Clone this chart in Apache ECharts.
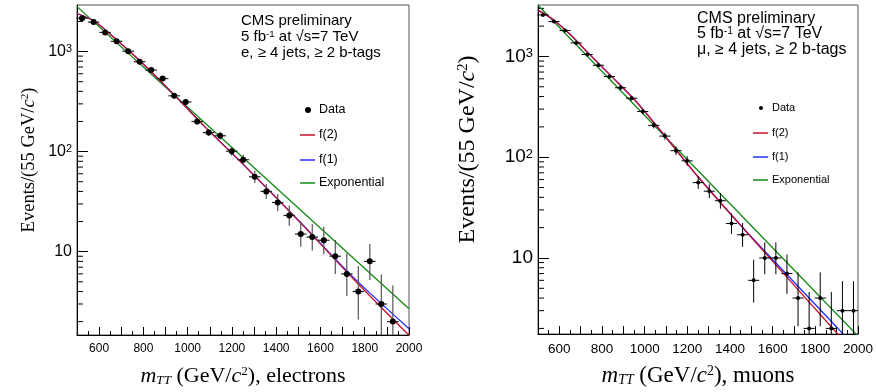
<!DOCTYPE html>
<html>
<head>
<meta charset="utf-8">
<script src="https://cdn.jsdelivr.net/npm/echarts@6/dist/echarts.min.js"></script>
<style>
html, body { margin: 0; padding: 0; background: #fff; }
#chart { width: 876px; height: 392px; }
</style>
</head>
<body>
<div id="chart"></div>
<script>
// bin centres (GeV) and half width for the horizontal bars
const binCentres = [523, 575, 627, 679, 731, 783, 835, 887, 939, 991, 1043, 1095, 1147, 1199, 1251,
                    1303, 1355, 1407, 1459, 1511, 1563, 1615, 1667, 1719, 1771, 1823, 1875, 1927, 1979];
const binHalf = 26;

// electrons
const eleCounts = [2157, 1968, 1552, 1265, 1007, 791, 653, 537, 361, 313, 200, 155, 144, 101, 83,
                   56, 40, 31, 23, 15, 14, 13, 9, 6, 4, 8, 3, 2];
const eleLow  = [2111, 1924, 1513, 1229, 975, 763, 627, 514, 342, 295, 186, 143, 132, 91, 74,
                 48.5, 33.7, 25.4, 18.2, 11.2, 10.3, 9.4, 6.0, 3.6, 2.1, 5.2, 1.4, 0.7];
const eleHigh = [2204, 2013, 1592, 1302, 1040, 820, 680, 561, 381, 332, 215, 168, 157, 112, 93,
                 64.5, 47.4, 37.6, 28.9, 20.0, 18.8, 17.7, 13.1, 9.6, 7.2, 11.9, 5.9, 4.6];

// muons
const muCounts = [2582, 2218, 1811, 1361, 1046, 817, 632, 489, 385, 284, 207, 162, 116, 92, 56,
                  46, 37, 22, 17, 6, 10, 10, 7, 4, 2, 4, 2, 3, 3];
const muLow  = [2531, 2171, 1768, 1324, 1014, 788, 607, 467, 365, 267, 193, 149, 105, 82.4, 48.5,
                39.2, 30.9, 17.3, 12.9, 3.6, 6.9, 6.9, 4.4, 2.1, 0.7, 2.1, 0.7, 1.4, 1.4];
const muHigh = [2633, 2265, 1854, 1398, 1079, 846, 658, 512, 405, 302, 222, 176, 128, 102.6, 64.5,
                53.8, 44.1, 27.8, 22.2, 9.6, 14.3, 14.3, 10.8, 7.2, 4.6, 7.2, 4.6, 5.9, 5.9];

// fit curves
const eleFitX = [500, 580, 680, 785, 940, 1070, 1250, 1510, 1750, 2000];
const eleF2   = [2400, 1995, 1303, 803, 367, 184, 75, 19.4, 5.3, 1.46];
const eleF1   = [2400, 1995, 1303, 803, 367, 184, 75, 19.6, 5.5, 1.70];
const eleExpX = [500, 1000, 1500, 2000];
const eleExp  = [2810, 277, 27.3, 2.69];

const muFitX = [500, 575, 650, 735, 842, 946, 1048, 1250, 1492, 1906, 2000];
const muF2   = [2880, 2290, 1660, 1084, 641, 385, 215, 64, 16.7, 1.75, 1.05];
const muF1   = [2880, 2290, 1660, 1084, 641, 385, 215, 64, 16.9, 2.0, 1.19];
const muExpX = [500, 1000, 1500, 2000];
const muExp  = [3220, 259, 20.9, 1.68];

// minor ticks of the log axes
const eleMinor = [2, 3, 4, 5, 6, 7, 8, 9, 20, 30, 40, 50, 60, 70, 80, 90, 200, 300, 400, 500, 600, 700, 800, 900, 2000];
const muMinor  = [2, 3, 4, 5, 6, 7, 8, 9, 20, 30, 40, 50, 60, 70, 80, 90, 200, 300, 400, 500, 600, 700, 800, 900, 2000, 3000];

const RED = '#c8102e', BLUE = '#1f2eff', GREEN = '#138a13';
const SANS = 'Liberation Sans', SERIF = 'Liberation Serif';

const chart = echarts.init(document.getElementById('chart'));

function pairs(xs, ys) { return xs.map((x, i) => [x, ys[i]]); }

function dataRender(r, vCol, hCol, w) {
  return function (params, api) {
    const cs = params.coordSys;
    const x = api.value(0), y = api.value(1);
    const c = api.coord([x, y]);
    const yl = Math.min(api.coord([x, api.value(2)])[1], cs.y + cs.height);
    const yh = Math.max(api.coord([x, api.value(3)])[1], cs.y);
    const xl = api.coord([x - binHalf, y])[0];
    const xr = Math.min(api.coord([x + binHalf, y])[0], cs.x + cs.width);
    return {
      type: 'group',
      children: [
        { type: 'line', shape: { x1: c[0], y1: yh, x2: c[0], y2: yl }, style: { stroke: vCol, lineWidth: w } },
        { type: 'line', shape: { x1: xl, y1: c[1], x2: xr, y2: c[1] }, style: { stroke: hCol, lineWidth: w } },
        { type: 'circle', shape: { cx: c[0], cy: c[1], r: r }, style: { fill: '#000' } }
      ]
    };
  };
}

function minorRender(params, api) {
  const p = api.coord([api.value(0), api.value(1)]);
  return { type: 'line', shape: { x1: p[0], y1: p[1], x2: p[0] + 6, y2: p[1] }, style: { stroke: '#000', lineWidth: 1 } };
}

function powLabel(v) {
  const e = Math.round(Math.log10(v));
  if (Math.abs(Math.log10(v) - e) > 1e-6) return '';
  return e === 1 ? '{b|10}' : '{b|10}{sup|' + e + '}';
}

function xAxisCfg(idx, title, fs, tfs) {
  return {
    type: 'value', gridIndex: idx, min: 500, max: 2000, interval: 100,
    axisLine: { show: true, onZero: false, lineStyle: { color: '#000', width: 1 } },
    axisTick: { show: true, inside: true, length: 8, lineStyle: { color: '#000' } },
    minorTick: { show: true, splitNumber: 2, length: 4, lineStyle: { color: '#000' } },
    splitLine: { show: false },
    axisLabel: { formatter: v => (v % 200 === 0 ? String(v) : ''), showMaxLabel: true,
                 fontFamily: SANS, fontSize: fs, color: '#000', margin: 8 },
    name: title, nameLocation: 'middle', nameGap: 30,
    nameTextStyle: {
      fontFamily: SERIF, fontSize: tfs, color: '#000',
      rich: {
        t: { fontFamily: SERIF, fontSize: tfs, color: '#000' },
        it: { fontFamily: SERIF, fontSize: tfs, fontStyle: 'italic', color: '#000' },
        sub: { fontFamily: SERIF, fontSize: tfs * 0.6, fontStyle: 'italic', color: '#000', verticalAlign: 'bottom', padding: [8, 0, 0, 0] },
        sup: { fontFamily: SERIF, fontSize: tfs * 0.6, color: '#000', verticalAlign: 'top' }
      }
    }
  };
}

function yAxisCfg(idx, min, max, fs, tfs, gap, lift) {
  return {
    type: 'log', logBase: 10, gridIndex: idx, min: min, max: max,
    axisLine: { show: true, onZero: false, lineStyle: { color: '#000', width: 1 } },
    axisTick: { show: true, inside: true, length: 11, lineStyle: { color: '#000' } },
    splitLine: { show: false },
    axisLabel: {
      formatter: powLabel, margin: 5, showMinLabel: false, showMaxLabel: false,
      rich: {
        b: { fontFamily: SANS, fontSize: fs, color: '#000' },
        sup: { fontFamily: SANS, fontSize: fs * 0.68, color: '#000', verticalAlign: 'top' }
      }
    },
    name: '{t|Events/(55 GeV/}{it|c}{sup|2}{t|)}', nameLocation: 'middle', nameRotate: 90, nameGap: gap,
    nameTextStyle: {
      padding: [0, 0, 0, lift * 2],
      rich: {
        t: { fontFamily: SERIF, fontSize: tfs, color: '#000' },
        it: { fontFamily: SERIF, fontSize: tfs, fontStyle: 'italic', color: '#000' },
        sup: { fontFamily: SERIF, fontSize: tfs * 0.6, color: '#000', verticalAlign: 'top' }
      }
    }
  };
}

function legendGroup(x0, ys, r, fs) {
  const items = [];
  items.push({ type: 'circle', shape: { cx: x0 + 8, cy: ys[0], r: r }, style: { fill: '#000' } });
  const cols = [RED, BLUE, GREEN];
  for (let i = 0; i < 3; i++) {
    items.push({ type: 'line', shape: { x1: x0, y1: ys[i + 1], x2: x0 + 15, y2: ys[i + 1] }, style: { stroke: cols[i], lineWidth: 1.5 } });
  }
  const labels = ['Data', 'f(2)', 'f(1)', 'Exponential'];
  labels.forEach((t, i) => items.push({
    type: 'text', x: x0 + 19, y: ys[i],
    style: { text: t, font: fs + 'px ' + SANS, fill: '#000', verticalAlign: 'middle' }
  }));
  return items;
}

function headerGroup(x0, ys, fs, lepton) {
  const rich = { sup: { fontFamily: SANS, fontSize: fs * 0.65, fill: '#000', verticalAlign: 'top' },
                 n: { fontFamily: SANS, fontSize: fs, fill: '#000' } };
  const lines = ['{n|CMS preliminary}', '{n|5 fb}{sup|-1}{n| at √s=7 TeV}', '{n|' + lepton + ', ≥ 4 jets, ≥ 2 b-tags}'];
  return lines.map((t, i) => ({
    type: 'text', x: x0, y: ys[i],
    style: { text: t, rich: rich, font: fs + 'px ' + SANS, fill: '#000', verticalAlign: 'middle' }
  }));
}

const option = {
  animation: false,
  backgroundColor: '#fff',
  grid: [
    { left: 77, top: 5, width: 332, height: 333, show: true, borderColor: '#555', borderWidth: 1 },
    { left: 538, top: 5, width: 320, height: 333, show: true, borderColor: '#555', borderWidth: 1 }
  ],
  xAxis: [
    xAxisCfg(0, '{it|m}{sub|TT}{t| (GeV/}{it|c}{sup|2}{t|), electrons}', 12, 22),
    xAxisCfg(1, '{it|m}{sub|TT}{t| (GeV/}{it|c}{sup|2}{t|), muons}', 13.5, 23)
  ],
  yAxis: [
    yAxisCfg(0, 1.47, 2918, 16, 18.5, 38, 10),
    yAxisCfg(1, 1.76, 3240, 19, 24, 58, 20)
  ],
  graphic: [
    ...headerGroup(241, [20.7, 36.7, 53.3], 15, 'e'),
    ...headerGroup(697, [18.3, 34, 50], 16, 'μ'),
    ...legendGroup(300, [110, 135, 160, 183], 3, 12.5),
    ...legendGroup(753, [108, 133, 157, 180], 2, 11)
  ],
  series: [
    { type: 'custom', name: 'minorE', xAxisIndex: 0, yAxisIndex: 0, renderItem: minorRender,
      data: eleMinor.map(v => [500, v]), silent: true, z: 1 },
    { type: 'line', name: 'Exponential', xAxisIndex: 0, yAxisIndex: 0, data: pairs(eleExpX, eleExp),
      showSymbol: false, lineStyle: { color: GREEN, width: 1.3 }, clip: true, z: 2 },
    { type: 'line', name: 'f(1)', xAxisIndex: 0, yAxisIndex: 0, data: pairs(eleFitX, eleF1), smooth: 0.3,
      showSymbol: false, lineStyle: { color: BLUE, width: 1.3 }, clip: true, z: 2 },
    { type: 'line', name: 'f(2)', xAxisIndex: 0, yAxisIndex: 0, data: pairs(eleFitX, eleF2), smooth: 0.3,
      showSymbol: false, lineStyle: { color: RED, width: 1.3 }, clip: true, z: 3 },
    { type: 'custom', name: 'Data', xAxisIndex: 0, yAxisIndex: 0, renderItem: dataRender(3, '#555', '#222', 1.2),
      data: eleCounts.map((v, i) => [binCentres[i], v, eleLow[i], eleHigh[i]]), z: 4 },

    { type: 'custom', name: 'minorM', xAxisIndex: 1, yAxisIndex: 1, renderItem: minorRender,
      data: muMinor.map(v => [500, v]), silent: true, z: 1 },
    { type: 'line', name: 'Exponential', xAxisIndex: 1, yAxisIndex: 1, data: pairs(muExpX, muExp),
      showSymbol: false, lineStyle: { color: GREEN, width: 1.3 }, clip: true, z: 2 },
    { type: 'line', name: 'f(1)', xAxisIndex: 1, yAxisIndex: 1, data: pairs(muFitX, muF1), smooth: 0.3,
      showSymbol: false, lineStyle: { color: BLUE, width: 1.3 }, clip: true, z: 2 },
    { type: 'line', name: 'f(2)', xAxisIndex: 1, yAxisIndex: 1, data: pairs(muFitX, muF2), smooth: 0.3,
      showSymbol: false, lineStyle: { color: RED, width: 1.3 }, clip: true, z: 3 },
    { type: 'custom', name: 'Data', xAxisIndex: 1, yAxisIndex: 1, renderItem: dataRender(2, '#000', '#000', 1),
      data: muCounts.map((v, i) => [binCentres[i], v, muLow[i], muHigh[i]]), z: 4 }
  ]
};

chart.setOption(option);
</script>
</body>
</html>
